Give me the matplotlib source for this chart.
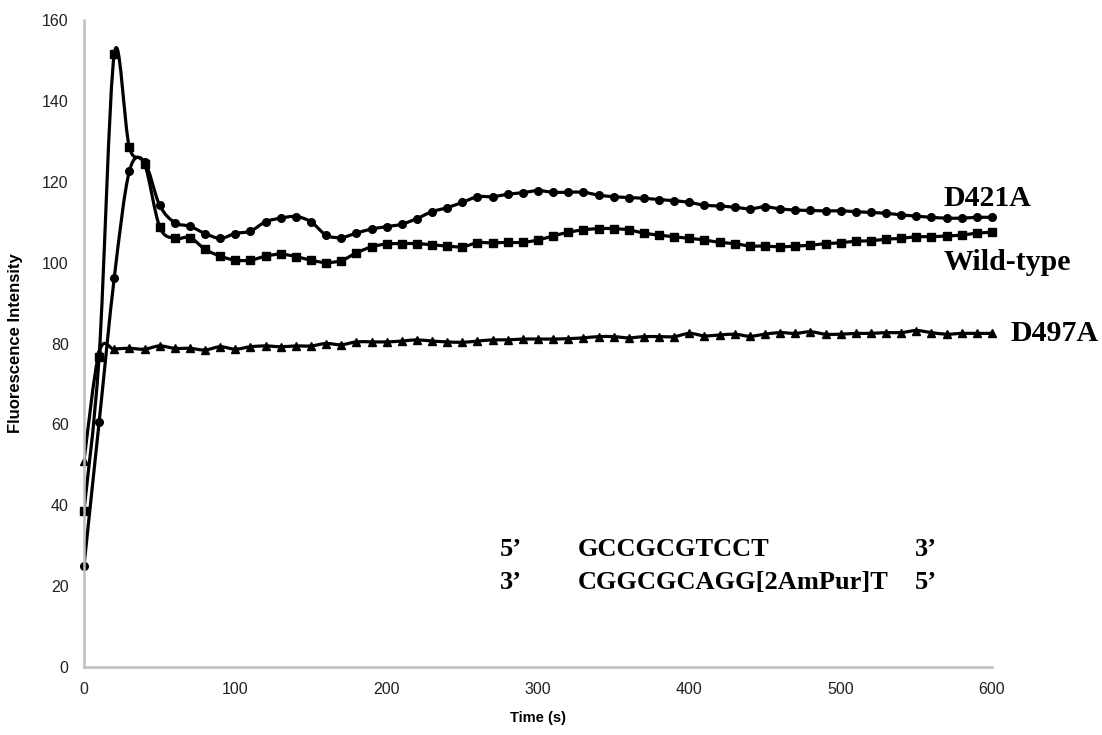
import numpy as np
import matplotlib
matplotlib.use('Agg')
import matplotlib.pyplot as plt
from matplotlib.path import Path
from matplotlib.patches import PathPatch

# time axis (s), one reading every 10 s
time = np.arange(0, 610, 10)

d421a = [25.0, 60.5, 96.2, 122.6, 124.8, 114.2, 109.9, 109.0, 107.2, 106.0,
         107.2, 107.8, 110.1, 111.0, 111.4, 110.1, 106.8, 106.2, 107.3, 108.3,
         108.9, 109.5, 110.9, 112.6, 113.6, 114.9, 116.3, 116.3, 116.9, 117.3,
         117.8, 117.4, 117.4, 117.4, 116.7, 116.3, 116.1, 115.9, 115.6, 115.3,
         114.9, 114.2, 114.0, 113.7, 113.3, 113.8, 113.3, 113.0, 112.9, 112.8,
         112.8, 112.6, 112.4, 112.2, 111.8, 111.5, 111.2, 111.0, 111.0, 111.2,
         111.2]

wild_type = [38.7, 76.7, 151.5, 128.5, 124.5, 108.9, 106.0, 106.2, 103.3, 101.6,
             100.6, 100.6, 101.6, 102.1, 101.5, 100.6, 100.0, 100.5, 102.4, 103.9,
             104.6, 104.7, 104.7, 104.4, 104.1, 103.9, 104.9, 104.9, 105.0, 105.0,
             105.6, 106.6, 107.5, 108.1, 108.4, 108.4, 108.1, 107.3, 106.8, 106.4,
             106.0, 105.6, 105.0, 104.7, 104.1, 104.1, 103.9, 104.1, 104.3, 104.7,
             104.9, 105.3, 105.4, 105.8, 106.0, 106.4, 106.4, 106.6, 106.8, 107.3,
             107.5]

d497a = [51.0, 77.8, 78.6, 78.8, 78.6, 79.4, 78.8, 78.8, 78.4, 79.2,
         78.6, 79.2, 79.4, 79.2, 79.4, 79.4, 80.0, 79.7, 80.4, 80.4,
         80.4, 80.6, 80.9, 80.6, 80.4, 80.3, 80.6, 80.9, 80.9, 81.1,
         81.1, 81.1, 81.2, 81.4, 81.7, 81.7, 81.4, 81.7, 81.7, 81.7,
         82.5, 81.9, 82.1, 82.3, 81.8, 82.3, 82.7, 82.5, 82.9, 82.3,
         82.3, 82.5, 82.5, 82.7, 82.7, 83.2, 82.7, 82.3, 82.5, 82.5,
         82.5]

series = [('D421A', d421a, 'o', 5.5),
          ('Wild-type', wild_type, 's', 5.5),
          ('D497A', d497a, '^', 5.5)]

labels = {'D421A': (568, 115.8), 'Wild-type': (568, 100.0), 'D497A': (612, 82.4)}


## smoothed line (like a spreadsheet "smoothed line" chart)
def smooth_path(x, y):
    n = len(x)
    verts = [(x[0], y[0])]
    codes = [Path.MOVETO]
    for i in range(n - 1):
        a = max(i - 1, 0)
        b = min(i + 2, n - 1)
        c1 = (x[i] + (x[i + 1] - x[a]) / 6.0, y[i] + (y[i + 1] - y[a]) / 6.0)
        c2 = (x[i + 1] - (x[b] - x[i]) / 6.0, y[i + 1] - (y[b] - y[i]) / 6.0)
        verts += [c1, c2, (x[i + 1], y[i + 1])]
        codes += [Path.CURVE4] * 3
    return Path(verts, codes)


fig = plt.figure(figsize=(11.02, 7.35), dpi=100)
ax = fig.add_axes([0.0762, 0.0925, 0.824, 0.8803])

for name, vals, mk, ms in series:
    ax.add_patch(PathPatch(smooth_path(time, vals), fill=False, lw=2.3,
                           edgecolor='black', capstyle='round', joinstyle='round'))
    ax.plot(time, vals, ls='none', marker=mk, ms=ms, color='black', clip_on=False)
    lx, ly = labels[name]
    ax.text(lx, ly, name, family='Liberation Serif', weight='bold', fontsize=21.5,
            va='center', ha='left', clip_on=False)

# sequence annotation
seq_font = dict(family='Liberation Serif', weight='bold', fontsize=19, va='center')
ax.text(275, 29.0, "5\u2019", **seq_font)
ax.text(326, 29.0, "GCCGCGTCCT", **seq_font)
ax.text(549, 29.0, "3\u2019", **seq_font)
ax.text(275, 21.0, "3\u2019", **seq_font)
ax.text(326, 21.0, "CGGCGCAGG[2AmPur]T", **seq_font)
ax.text(549, 21.0, "5\u2019", **seq_font)

ax.set_xlim(0, 600)
ax.set_ylim(0, 160)
ax.set_xticks(range(0, 601, 100))
ax.set_yticks(range(0, 161, 20))

for side in ['top', 'right']:
    ax.spines[side].set_visible(False)
for side in ['left', 'bottom']:
    ax.spines[side].set_color('#bfbfbf')
    ax.spines[side].set_linewidth(1.8)

ax.tick_params(length=0, pad=11, labelsize=11.5, labelcolor='#222222')
for lab in ax.get_xticklabels() + ax.get_yticklabels():
    lab.set_family('Liberation Sans')

ax.set_xlabel('Time (s)', family='Liberation Sans', weight='bold', fontsize=10.5, labelpad=10)
ax.set_ylabel('Fluorescence Intensity', family=['Liberation Sans Narrow', 'Liberation Sans'],
              weight='bold', fontsize=12, labelpad=14)

fig.savefig('out.png', dpi=100)
